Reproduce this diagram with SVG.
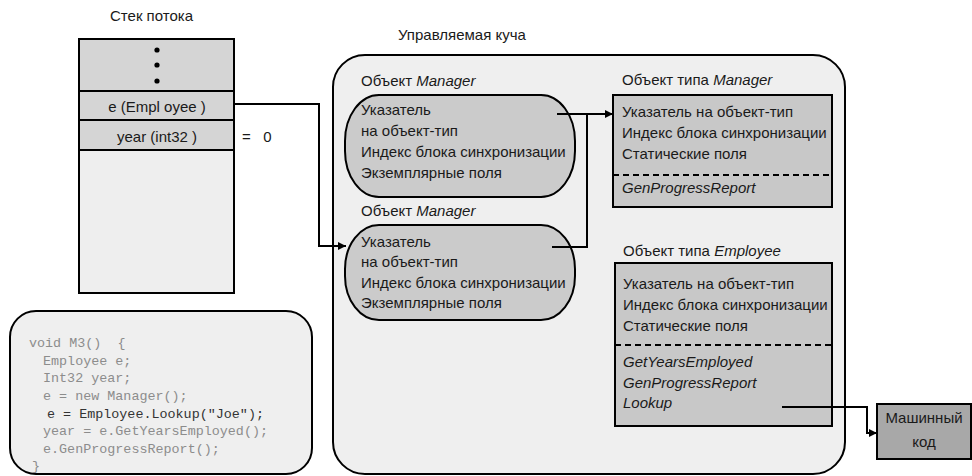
<svg xmlns="http://www.w3.org/2000/svg" width="972" height="476" viewBox="0 0 972 476">
  <style>
    .t { font-family: "Liberation Sans", Arial, sans-serif; font-size: 15px; fill: #1a1a1a; }
    .i { font-style: italic; }
    .code { font-family: "Liberation Mono", "DejaVu Sans Mono", monospace; font-size: 13.4px; fill: #8c8c8c; }
    .code .hl { fill: #333333; }
    .box { stroke: #000; stroke-width: 2; }
    .wire { fill: none; stroke: #000; stroke-width: 2; }
    .dash { fill: none; stroke: #000; stroke-width: 2; stroke-dasharray: 6 4; }
  </style>
  <defs>
    <marker id="arrow" viewBox="0 0 8 8" refX="8" refY="4" markerWidth="8" markerHeight="8" markerUnits="userSpaceOnUse" orient="auto">
      <path d="M0,0 L8,4 L0,8 Z" fill="#000"/>
    </marker>
  </defs>

  <rect width="972" height="476" fill="#ffffff"/>

  <!-- Thread stack -->
  <g id="thread-stack">
    <text class="t" x="110" y="21">Стек потока</text>
    <rect x="79" y="39" width="155" height="111" fill="#d5d5d5"/>
    <rect x="79" y="150" width="155" height="143" fill="#eeeeee"/>
    <rect x="79" y="39" width="155" height="254" fill="none" class="box"/>
    <line x1="79" y1="91" x2="234" y2="91" class="wire"/>
    <line x1="79" y1="120" x2="234" y2="120" class="wire"/>
    <line x1="79" y1="150" x2="234" y2="150" class="wire"/>
    <circle cx="157" cy="50" r="2.6" fill="#000"/>
    <circle cx="157" cy="65" r="2.6" fill="#000"/>
    <circle cx="157" cy="81" r="2.6" fill="#000"/>
    <text class="t" x="157" y="112" text-anchor="middle" xml:space="preserve">e (Empl oyee )</text>
    <text class="t" x="157" y="142" text-anchor="middle" xml:space="preserve">year (int32 )</text>
    <text class="t" x="242" y="142" xml:space="preserve">=   0</text>
  </g>

  <!-- Source code -->
  <g id="source-code">
    <rect x="10" y="311" width="302" height="163" rx="26" ry="26" fill="#efefef" class="box"/>
    <text class="code" xml:space="preserve">
      <tspan x="29" y="347">void M3()  {</tspan>
      <tspan x="43" y="365">Employee e;</tspan>
      <tspan x="43" y="382">Int32 year;</tspan>
      <tspan x="43" y="400">e = new Manager();</tspan>
      <tspan x="47" y="418" class="hl">e = Employee.Lookup("Joe");</tspan>
      <tspan x="43" y="435">year = e.GetYearsEmployed();</tspan>
      <tspan x="43" y="453">e.GenProgressReport();</tspan>
      <tspan x="32" y="470">}</tspan>
    </text>
  </g>

  <!-- Managed heap -->
  <g id="managed-heap">
    <text class="t" x="398" y="40">Управляемая куча</text>
    <rect x="333" y="55" width="512" height="419" rx="32" ry="32" fill="#efefef" class="box"/>
  </g>

  <!-- Manager object #1 -->
  <g id="manager-object-1">
    <text class="t" x="361" y="86">Объект <tspan class="i">Manager</tspan></text>
    <rect x="345" y="95" width="230" height="102" rx="34" ry="46" fill="#cbcbcb" class="box"/>
    <text class="t" x="361" y="115">Указатель</text>
    <text class="t" x="361" y="136">на объект-тип</text>
    <text class="t" x="361" y="157">Индекс блока синхронизации</text>
    <text class="t" x="361" y="178">Экземплярные поля</text>
  </g>

  <!-- Manager object #2 -->
  <g id="manager-object-2">
    <text class="t" x="361" y="216">Объект <tspan class="i">Manager</tspan></text>
    <rect x="345" y="225" width="230" height="95" rx="34" ry="44" fill="#cbcbcb" class="box"/>
    <text class="t" x="361" y="247">Указатель</text>
    <text class="t" x="361" y="267">на объект-тип</text>
    <text class="t" x="361" y="288">Индекс блока синхронизации</text>
    <text class="t" x="361" y="308">Экземплярные поля</text>
  </g>

  <!-- Manager type object -->
  <g id="manager-type">
    <text class="t" x="622" y="85">Объект типа <tspan class="i">Manager</tspan></text>
    <rect x="613" y="95" width="219" height="112" fill="#c8c8c8" class="box"/>
    <text class="t" x="622" y="117">Указатель на объект-тип</text>
    <text class="t" x="622" y="138">Индекс блока синхронизации</text>
    <text class="t" x="622" y="159">Статические поля</text>
    <line x1="613" y1="175" x2="832" y2="175" class="dash"/>
    <text class="t i" x="622" y="193">GenProgressReport</text>
  </g>

  <!-- Employee type object -->
  <g id="employee-type">
    <text class="t" x="623" y="256">Объект типа <tspan class="i">Employee</tspan></text>
    <rect x="615" y="263" width="217" height="163" fill="#c8c8c8" class="box"/>
    <text class="t" x="623" y="289">Указатель на объект-тип</text>
    <text class="t" x="623" y="310">Индекс блока синхронизации</text>
    <text class="t" x="623" y="331">Статические поля</text>
    <line x1="615" y1="345" x2="832" y2="345" class="dash"/>
    <text class="t i" x="623" y="367">GetYearsEmployed</text>
    <text class="t i" x="623" y="388">GenProgressReport</text>
    <text class="t i" x="623" y="408">Lookup</text>
  </g>

  <!-- Native code -->
  <g id="native-code">
    <rect x="877" y="404" width="94" height="55" fill="#a8a8a8" class="box"/>
    <text class="t" x="924" y="423" text-anchor="middle">Машинный</text>
    <text class="t" x="924" y="447" text-anchor="middle">код</text>
  </g>

  <!-- Connectors -->
  <g id="connectors">
    <path d="M234,104 H319 V246 H346" class="wire" marker-end="url(#arrow)"/>
    <path d="M557,114 H613" class="wire" marker-end="url(#arrow)"/>
    <path d="M587,114 V247 H552" class="wire"/>
    <path d="M782,407 H867 V433 H877" class="wire" marker-end="url(#arrow)"/>
  </g>
</svg>
